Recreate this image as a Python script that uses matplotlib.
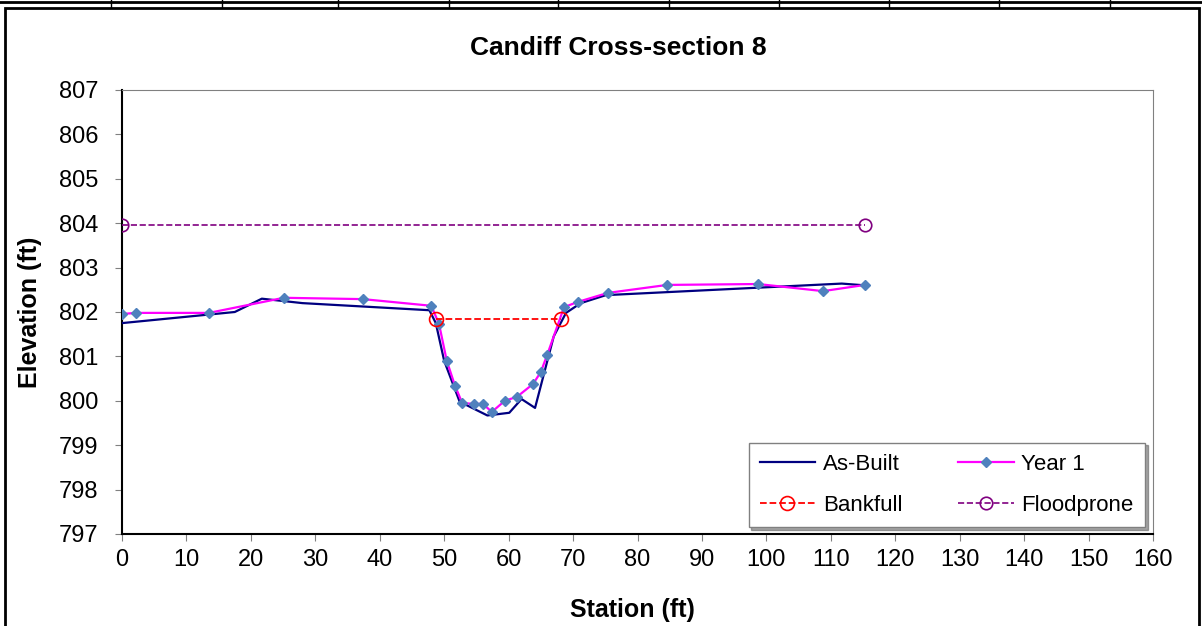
import matplotlib.pyplot as plt
from matplotlib.lines import Line2D
from matplotlib.patches import Rectangle

plt.rcParams['font.family'] = ['Liberation Sans', 'DejaVu Sans']

# As-Built survey
asbuilt_x = [0, 17.5, 21.7, 28.0, 47.7, 48.7, 50.0, 52.4, 56.7, 60.1, 62.0, 64.1,
             67.0, 68.9, 71.2, 75.1, 111.7, 115.3]
asbuilt_y = [801.75, 802.0, 802.3, 802.2, 802.04, 801.75, 800.9, 799.98, 799.67,
             799.73, 800.04, 799.84, 801.45, 801.98, 802.2, 802.38, 802.64, 802.6]

# Year 1 survey
year1_x = [0, 2.2, 13.5, 25.1, 37.4, 48.0, 49.2, 50.4, 51.7, 52.8, 54.6, 56.0,
           57.4, 59.4, 61.3, 63.8, 65.0, 66.0, 68.6, 70.8, 75.4, 84.6, 98.7,
           108.8, 115.3]
year1_y = [801.955, 801.98, 801.98, 802.32, 802.29, 802.14, 801.73, 800.9, 800.33,
           799.95, 799.93, 799.93, 799.75, 800.0, 800.09, 800.38, 800.65, 801.04,
           802.11, 802.23, 802.43, 802.61, 802.63, 802.47, 802.61]

bankfull_x = [48.7, 68.1]
bankfull_y = [801.84, 801.84]
flood_x = [0, 115.3]
flood_y = [803.96, 803.96]

x_ticks = list(range(0, 161, 10))
y_ticks = list(range(797, 808))

fig = plt.figure(figsize=(12.02, 6.26), dpi=100)
ax = fig.add_axes([122 / 1202, 1 - 534 / 626, 1031 / 1202, 444 / 626])

ax.plot(asbuilt_x, asbuilt_y, color='#000080', lw=1.6, label='As-Built', zorder=3)
ax.plot(year1_x, year1_y, color='#FF00FF', lw=1.6, marker='D', ms=5,
        mfc='#4F81BD', mec='#4F81BD', label='Year 1', zorder=4)
ax.plot(bankfull_x, bankfull_y, color='#FF0000', lw=1.3, ls='--', marker='o',
        ms=10, mfc='none', mec='#FF0000', mew=1.2, label='Bankfull', zorder=5)
ax.plot(flood_x, flood_y, color='#800080', lw=1.2, ls='--', marker='o',
        ms=9, mfc='none', mec='#800080', mew=1.2, label='Floodprone', zorder=5)

ax.set_xlim(0, 160)
ax.set_ylim(797, 807)
ax.set_xticks(x_ticks)
ax.set_yticks(y_ticks)
ax.tick_params(direction='out', length=5, color='#808080', labelsize=17, pad=6)
ax.tick_params(axis='y', pad=12)
for s in ['top', 'right']:
    ax.spines[s].set_color('#808080')
for s in ['left', 'bottom']:
    ax.spines[s].set_color('black')
    ax.spines[s].set_linewidth(1.5)

ax.set_xlabel('Station (ft)', fontsize=18, fontweight='bold', va='center')
ax.set_ylabel('Elevation (ft)', fontsize=18, fontweight='bold', va='center')
ax.xaxis.set_label_coords(0.495, -0.171)
ax.yaxis.set_label_coords(-0.089, 0.5)

fig.text(618 / 1202, 1 - 48 / 626, 'Candiff Cross-section 8', ha='center',
         va='center', fontsize=19, fontweight='bold')

h, l = ax.get_legend_handles_labels()
order = [0, 2, 1, 3]
leg = ax.legend([h[i] for i in order], [l[i] for i in order], ncol=2,
                loc='lower right', bbox_to_anchor=(0.992, 0.016), borderaxespad=0,
                fontsize=16, fancybox=False, shadow=True, edgecolor='#808080',
                handlelength=2.5, handletextpad=0.35, columnspacing=2.5,
                labelspacing=0.9, borderpad=0.5)
leg.get_frame().set_linewidth(1.0)

# chart border and sheet grid lines
fig.add_artist(Rectangle((5 / 1202, -0.05), 1194 / 1202, 1.05 - 8 / 626,
                         transform=fig.transFigure, fill=False, lw=2, ec='black'))
fig.add_artist(Line2D([0, 1], [1 - 2 / 626, 1 - 2 / 626], color='black', lw=2))
for gx in [111, 222, 338, 449, 558, 669, 779, 889, 999, 1110]:
    fig.add_artist(Line2D([gx / 1202, gx / 1202], [1, 1 - 7 / 626], color='black', lw=1))

fig.savefig('out.png', dpi=100)
